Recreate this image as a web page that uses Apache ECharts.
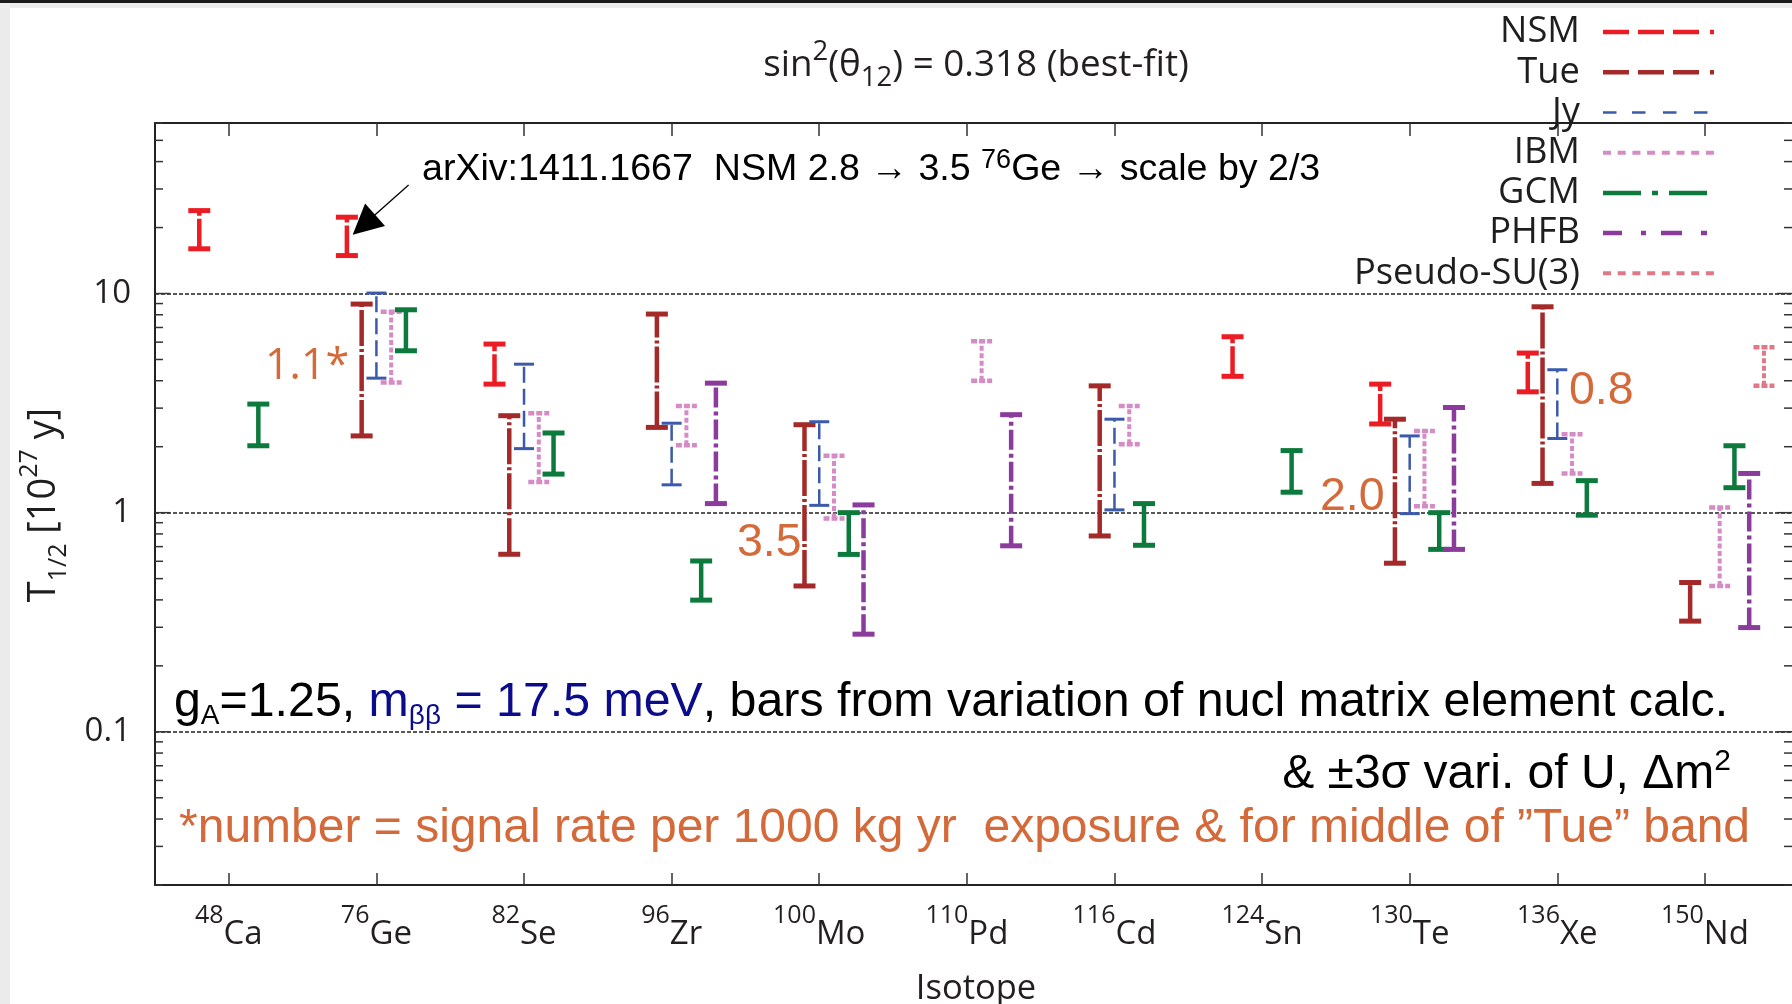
<!DOCTYPE html>
<html>
<head>
<meta charset="utf-8">
<title>0vbb half-life per isotope</title>
<script src="https://cdn.jsdelivr.net/npm/echarts@6/dist/echarts.min.js"></script>
<style>
  html, body { margin: 0; padding: 0; background: #fff; }
  #chart { width: 1792px; height: 1004px; }
</style>
</head>
<body>
<div id="chart"></div>
<script>
// ---- data ----
// isotopes along the x axis (position 1..11)
const massNumbers = ['48', '76', '82', '96', '100', '110', '116', '124', '130', '136', '150'];
const elements = ['Ca', 'Ge', 'Se', 'Zr', 'Mo', 'Pd', 'Cd', 'Sn', 'Te', 'Xe', 'Nd'];

// T1/2 range [low, high] in 1e27 y for each isotope, null = no calculation
const nsmRange = [[16.0, 23.9], [14.9, 22.3], [3.86, 5.88], null, null, null, null, [4.19, 6.35], [2.54, 3.86], [3.56, 5.35], null];
const tueRange = [null, [2.24, 8.95], [0.646, 2.77], [2.45, 8.06], [0.463, 2.52], null, [0.783, 3.79], null, [0.588, 2.67], [1.36, 8.7], [0.32, 0.48]];
const jyRange = [null, [4.11, 10.05], [1.96, 4.76], [1.34, 2.56], [1.08, 2.60], null, [1.03, 2.67], null, [0.99, 2.24], [2.18, 4.49], null];
const ibmRange = [null, [3.93, 8.26], [1.38, 2.84], [2.03, 3.07], [0.94, 1.82], [4.0, 6.05], [2.05, 3.07], null, [1.07, 2.36], [1.51, 2.28], [0.463, 1.056]];
const gcmRange = [[2.02, 3.13], [5.48, 8.43], [1.50, 2.31], [0.399, 0.602], [0.645, 1.00], null, [0.71, 1.10], [1.24, 1.92], [0.68, 1.0], [0.974, 1.40], [1.30, 2.02]];
const phfbRange = [null, null, null, [1.10, 3.90], [0.279, 1.085], [0.706, 2.80], null, null, [0.68, 3.02], null, [0.299, 1.51]];
const psu3Range = [null, null, null, null, null, null, null, null, null, null, [3.79, 5.68]];

// y axis decades that get a label and a grid line
const decadeLabels = [0.1, 1, 10];

// ---- layout / style ----
const X_MIN = 0.5, X_MAX = 11.59;
const Y_MIN = 0.02, Y_MAX = 60;
const MYR = "'Open Sans', 'Noto Sans', sans-serif";
const ARIAL = "'Liberation Sans', Arial, sans-serif";
const ORANGE = '#d4693a';
const NAVY = '#0b0c8c';
const INK = '#1e1e1e';

// legend icon as filled dashes inside a 111x6 box
function dashIcon(segs, h) {
  const y = (6 - h) / 2;
  let p = 'path://M0,0M111,6';
  segs.forEach(s => { p += 'M' + s[0] + ',' + y + 'h' + (s[1] - s[0]) + 'v' + h + 'h' + (s[0] - s[1]) + 'z'; });
  return p;
}
const ibmSegs = [];
for (let k = 0; k < 8; k++) ibmSegs.push([k * 14.7, k * 14.7 + 8]);

const models = [
  { name: 'NSM', data: nsmRange, color: '#ec1c24', shift: -0.2, width: 4.5, cap: 22, dash: [30, 3], capDash: null,
    icon: dashIcon([[0, 26], [35, 61], [70, 96], [107, 111]], 4.5) },
  { name: 'Tue', data: tueRange, color: '#a42a2a', shift: -0.1, width: 4.5, cap: 22, dash: [36, 3, 3, 3], capDash: null,
    icon: dashIcon([[0, 26], [35, 61], [70, 96], [107, 111]], 4.5) },
  { name: 'Jy', data: jyRange, color: '#3c5aab', shift: 0, width: 2.5, cap: 20, dash: [16, 6], capDash: null,
    icon: dashIcon([[0, 13.5], [29, 42.5], [60, 73.5], [91, 104.5]], 2.5) },
  { name: 'IBM', data: ibmRange, color: '#d58bc5', shift: 0.1, width: 4, cap: 21, dash: [5, 2.5], capDash: [6, 2],
    icon: dashIcon(ibmSegs, 4) },
  { name: 'GCM', data: gcmRange, color: '#0b7a3c', shift: 0.2, width: 4.5, cap: 22, dash: null, capDash: null,
    icon: dashIcon([[0, 38], [49, 55], [66, 104]], 4.5) },
  { name: 'PHFB', data: phfbRange, color: '#8a3b9c', shift: 0.3, width: 4.5, cap: 22, dash: [20, 4, 4, 4], capDash: null,
    icon: dashIcon([[0, 19], [38, 43], [58, 79], [98, 104]], 4.5) },
  { name: 'Pseudo-SU(3)', data: psu3Range, color: '#e07888', shift: 0.4, width: 4, cap: 21, dash: [5, 2.5], capDash: [6, 2],
    icon: dashIcon(ibmSegs, 4) }
];

// minor tick values for the log axis frame (2..9 per decade)
const frameTicks = [];
[0.01, 0.1, 1, 10].forEach(d => {
  for (let k = 1; k <= 9; k++) {
    const v = +(k * d).toPrecision(3);
    if (v >= Y_MIN && v <= Y_MAX) frameTicks.push(v);
  }
});
const isoTicks = massNumbers.map((m, i) => i + 1);

function errorBarRenderer(m) {
  return function (params, api) {
    const x = api.value(0) + m.shift;
    const lo = api.coord([x, api.value(1)]);
    const hi = api.coord([x, api.value(2)]);
    const w = m.cap / 2;
    const base = { stroke: m.color, lineWidth: m.width, fill: null, lineCap: 'butt' };
    return {
      type: 'group',
      children: [
        { type: 'line', shape: { x1: lo[0], y1: lo[1], x2: hi[0], y2: hi[1] },
          style: Object.assign({}, base, { lineDash: m.dash }) },
        { type: 'line', shape: { x1: hi[0] - w, y1: hi[1], x2: hi[0] + w, y2: hi[1] },
          style: Object.assign({}, base, { lineDash: m.capDash, lineWidth: m.width + 0.5 }) },
        { type: 'line', shape: { x1: lo[0] - w, y1: lo[1], x2: lo[0] + w, y2: lo[1] },
          style: Object.assign({}, base, { lineDash: m.capDash, lineWidth: m.width + 0.5 }) }
      ]
    };
  };
}

const series = models.map(m => ({
  type: 'custom',
  name: m.name,
  renderItem: errorBarRenderer(m),
  itemStyle: { color: m.color },
  encode: { x: 0, y: [1, 2] },
  data: m.data.map((r, i) => r ? [i + 1, r[0], r[1]] : null).filter(Boolean)
}));

// arrow pointing at the rescaled 76Ge NSM bar
series[0].markLine = {
  silent: true,
  symbol: ['none', 'triangle'],
  symbolSize: 30,
  label: { show: false },
  lineStyle: { color: '#000', width: 1.3, type: 'solid' },
  itemStyle: { color: '#000' },
  data: [[{ coord: [2.218, 31.3] }, { coord: [1.915, 20.6] }]]
};

// tick marks on the left and right frame edges
series.push({
  type: 'custom',
  name: 'frame',
  silent: true,
  z: 1,
  encode: { x: 0, y: 1 },
  data: frameTicks.map(v => [X_MIN, v]),
  renderItem: function (params, api) {
    const v = api.value(1);
    const l = api.coord([X_MIN, v]);
    const r = api.coord([X_MAX, v]);
    const major = decadeLabels.indexOf(v) >= 0;
    const len = major ? 15 : 8;
    const st = { stroke: '#333', lineWidth: 1.5 };
    return {
      type: 'group',
      children: [
        { type: 'line', shape: { x1: l[0], y1: l[1], x2: l[0] + len, y2: l[1] }, style: st },
        { type: 'line', shape: { x1: r[0] - len, y1: r[1], x2: r[0], y2: r[1] }, style: st }
      ]
    };
  }
});

// text placed by its baseline: y is the middle of the main line
function label(x, baseline, text, o) {
  const k = o.family === MYR ? 0.388 : 0.3465;
  return {
    type: 'text',
    x: x,
    y: baseline - k * o.size,
    rotation: o.rotation || 0,
    silent: true,
    style: {
      text: text,
      fontFamily: o.family,
      fontSize: o.size,
      lineHeight: o.lh || Math.round(o.size * 1.2),
      fill: o.color || INK,
      align: o.align || 'left',
      textAlign: o.align || 'left',
      verticalAlign: 'middle',
      textVerticalAlign: 'middle',
      rich: o.rich || {}
    }
  };
}

const yName = label(0, 0, 'T{sub|1/2} [10{sup|27} y]', {
  family: MYR, size: 38, lh: 54, align: 'center',
  rich: {
    sub: { fontFamily: MYR, fontSize: 25, lineHeight: 30, verticalAlign: 'bottom', fill: INK },
    sup: { fontFamily: MYR, fontSize: 25, lineHeight: 18, verticalAlign: 'top', fill: INK }
  }
});
yName.x = 44.6; yName.y = 505; yName.rotation = Math.PI / 2;

const graphics = [
  { type: 'rect', silent: true, shape: { x: 0, y: 0, width: 10, height: 1004 }, style: { fill: '#ebebeb' } },
  { type: 'rect', silent: true, shape: { x: 0, y: 0, width: 1792, height: 8 }, style: { fill: '#ececec' } },
  { type: 'rect', silent: true, shape: { x: 0, y: 0, width: 1792, height: 3 }, style: { fill: '#1a1a1a' } },
  label(976, 79.6, 'sin{sup|2}(θ{sub|12}) = 0.318 (best-fit)', {
    family: MYR, size: 36.8, lh: 54, align: 'center', color: '#231f20',
    rich: {
      sup: { fontFamily: MYR, fontSize: 27.5, lineHeight: 26.4, verticalAlign: 'top', fill: '#231f20' },
      sub: { fontFamily: MYR, fontSize: 27.5, lineHeight: 25, verticalAlign: 'bottom', fill: '#231f20' }
    }
  }),
  label(422, 183, 'arXiv:1411.1667  NSM 2.8 → 3.5 {sup|76}Ge → scale by 2/3', {
    family: ARIAL, size: 37.6, lh: 46, color: '#000',
    rich: { sup: { fontFamily: ARIAL, fontSize: 27, lineHeight: 18, verticalAlign: 'top', fill: '#000' } }
  }),
  label(265, 383, '1.1*', { family: MYR, size: 43, color: ORANGE }),
  label(737, 559, '3.5', { family: ARIAL, size: 46.5, color: ORANGE }),
  label(1320, 513, '2.0', { family: ARIAL, size: 46.5, color: ORANGE }),
  label(1569, 407, '0.8', { family: ARIAL, size: 46.5, color: ORANGE }),
  label(174, 719.5, 'g{sub|A}=1.25, {m|m}{msub|ββ}{m| = 17.5 meV}, bars from variation of nucl matrix element calc.', {
    family: ARIAL, size: 48.3, lh: 56, color: '#000',
    rich: {
      sub: { fontFamily: ARIAL, fontSize: 28, lineHeight: 19, verticalAlign: 'bottom', fill: '#000' },
      m: { fontFamily: ARIAL, fontSize: 48.3, lineHeight: 56, fill: NAVY },
      msub: { fontFamily: ARIAL, fontSize: 28, lineHeight: 19, verticalAlign: 'bottom', fill: NAVY }
    }
  }),
  label(1731, 791, '& ±3σ vari. of U, Δm{sup|2}', {
    family: ARIAL, size: 48, lh: 56, color: '#000', align: 'right',
    rich: { sup: { fontFamily: ARIAL, fontSize: 30, lineHeight: 42, verticalAlign: 'top', fill: '#000' } }
  }),
  label(179, 845.5, '*number = signal rate per 1000 kg yr  exposure & for middle of ”Tue” band', {
    family: ARIAL, size: 48, color: ORANGE
  }),
  label(976, 1003, 'Isotope', { family: MYR, size: 34.5, align: 'center', color: '#231f20' }),
  yName
];

const isoLabel = {
  customValues: isoTicks,
  margin: 18,
  formatter: v => '{sup|' + massNumbers[v - 1] + '}{el|' + elements[v - 1] + '}',
  rich: {
    sup: { fontFamily: MYR, fontSize: 25, lineHeight: 20, verticalAlign: 'top', color: '#231f20' },
    el: { fontFamily: MYR, fontSize: 33, lineHeight: 48, verticalAlign: 'bottom', color: '#231f20' }
  }
};

const chart = echarts.init(document.getElementById('chart'), null, { renderer: 'canvas' });
chart.setOption({
  animation: false,
  backgroundColor: '#fff',
  textStyle: { fontFamily: MYR },
  grid: { left: 155, top: 123, width: 1639, height: 762, containLabel: false },
  legend: {
    orient: 'vertical',
    right: 78,
    top: 12,
    padding: 0,
    align: 'right',
    itemWidth: 111,
    itemHeight: 6,
    itemGap: 0,
    selectedMode: false,
    itemStyle: { borderWidth: 0 },
    textStyle: { fontFamily: MYR, fontSize: 36.3, color: INK, lineHeight: 40.2, padding: [0, 18, 0, 0] },
    data: models.map(m => ({ name: m.name, icon: m.icon, itemStyle: { color: m.color } }))
  },
  xAxis: [
    {
      type: 'value', position: 'bottom', min: X_MIN, max: X_MAX,
      splitLine: { show: false },
      axisLine: { onZero: false, lineStyle: { color: '#222', width: 2 } },
      axisTick: { inside: true, length: 12, customValues: isoTicks, lineStyle: { color: '#333', width: 1.5 } },
      axisLabel: isoLabel
    },
    {
      type: 'value', position: 'top', min: X_MIN, max: X_MAX,
      splitLine: { show: false },
      axisLine: { onZero: false, lineStyle: { color: '#222', width: 2 } },
      axisTick: { inside: true, length: 13, customValues: isoTicks, lineStyle: { color: '#333', width: 1.5 } },
      axisLabel: { show: false }
    }
  ],
  yAxis: [
    {
      type: 'log', logBase: 10, min: Y_MIN, max: Y_MAX, position: 'left',
      axisLine: { show: true, onZero: false, lineStyle: { color: '#222', width: 2 } },
      axisTick: { show: false },
      axisLabel: {
        margin: 24, fontFamily: MYR, fontSize: 33, color: '#231f20',
        formatter: v => {
          const e = Math.log10(v);
          return Math.abs(e - Math.round(e)) < 1e-6 && decadeLabels.indexOf(+v.toPrecision(3)) >= 0 ? String(+v.toPrecision(3)) : '';
        }
      },
      splitLine: { show: true, lineStyle: { color: '#222', width: 1.5, type: [4, 2] } }
    }
  ],
  graphic: graphics,
  series: series
});
</script>
</body>
</html>
